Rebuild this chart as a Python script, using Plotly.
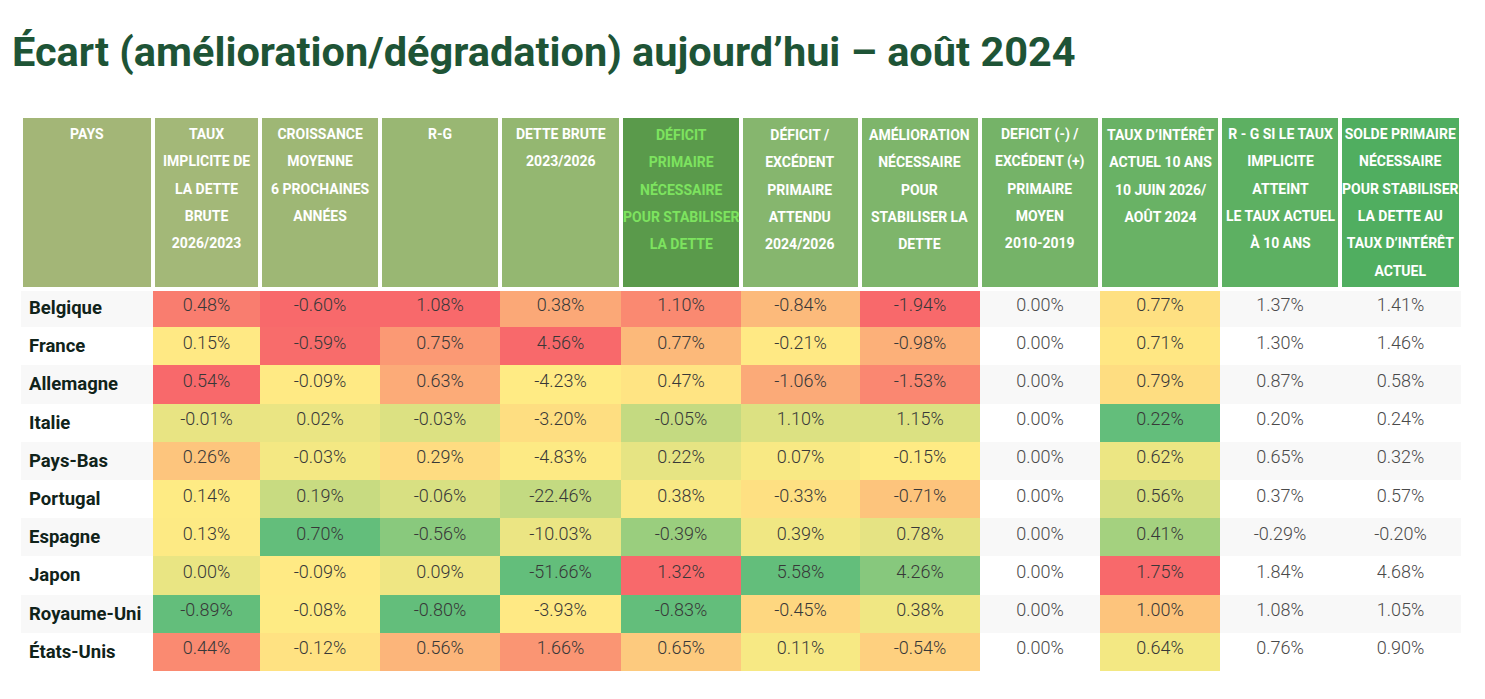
import plotly.graph_objects as go
from plotly.colors import sample_colorscale

# ---- data ----
pays = ["Belgique", "France", "Allemagne", "Italie", "Pays-Bas", "Portugal",
        "Espagne", "Japon", "Royaume-Uni", "États-Unis"]

taux_implicite = [0.48, 0.15, 0.54, -0.01, 0.26, 0.14, 0.13, 0.00, -0.89, 0.44]
croissance = [-0.60, -0.59, -0.09, 0.02, -0.03, 0.19, 0.70, -0.09, -0.08, -0.12]
r_g = [1.08, 0.75, 0.63, -0.03, 0.29, -0.06, -0.56, 0.09, -0.80, 0.56]
dette_brute = [0.38, 4.56, -4.23, -3.20, -4.83, -22.46, -10.03, -51.66, -3.93, 1.66]
deficit_necessaire = [1.10, 0.77, 0.47, -0.05, 0.22, 0.38, -0.39, 1.32, -0.83, 0.65]
deficit_attendu = [-0.84, -0.21, -1.06, 1.10, 0.07, -0.33, 0.39, 5.58, -0.45, 0.11]
amelioration = [-1.94, -0.98, -1.53, 1.15, -0.15, -0.71, 0.78, 4.26, 0.38, -0.54]
deficit_moyen = [0.00] * 10
taux_actuel = [0.77, 0.71, 0.79, 0.22, 0.62, 0.56, 0.41, 1.75, 1.00, 0.64]
r_g_actuel = [1.37, 1.30, 0.87, 0.20, 0.65, 0.37, -0.29, 1.84, 1.08, 0.76]
solde_actuel = [1.41, 1.46, 0.58, 0.24, 0.32, 0.57, -0.20, 4.68, 1.05, 0.90]

headers = [
    "PAYS",
    "TAUX<br>IMPLICITE DE<br>LA DETTE<br>BRUTE<br>2026/2023",
    "CROISSANCE<br>MOYENNE<br>6 PROCHAINES<br>ANNÉES",
    "R-G",
    "DETTE BRUTE<br>2023/2026",
    "DÉFICIT<br>PRIMAIRE<br>NÉCESSAIRE<br>POUR STABILISER<br>LA DETTE",
    "DÉFICIT /<br>EXCÉDENT<br>PRIMAIRE<br>ATTENDU<br>2024/2026",
    "AMÉLIORATION<br>NÉCESSAIRE<br>POUR<br>STABILISER LA<br>DETTE",
    "DEFICIT (-) /<br>EXCÉDENT (+)<br>PRIMAIRE<br>MOYEN<br>2010-2019",
    "TAUX D’INTÉRÊT<br>ACTUEL 10 ANS<br>10 JUIN 2026/<br>AOÛT 2024",
    "R - G SI LE TAUX<br>IMPLICITE<br>ATTEINT<br>LE TAUX ACTUEL<br>À 10 ANS",
    "SOLDE PRIMAIRE<br>NÉCESSAIRE<br>POUR STABILISER<br>LA DETTE AU<br>TAUX D’INTÉRÊT<br>ACTUEL",
]

columns = [taux_implicite, croissance, r_g, dette_brute, deficit_necessaire,
           deficit_attendu, amelioration, deficit_moyen, taux_actuel,
           r_g_actuel, solde_actuel]

# ---- styling ----
W, H = 1485, 699
header_colors = ["#A3B677", "#A3B878", "#9EB775", "#99B773", "#94B771", "#5A9A4B",
                 "#86B66E", "#7EB56B", "#75B368", "#69B265", "#5DB062", "#50AE60"]
header_font_colors = ["white"] * 12
header_font_colors[5] = "#7DE35F"

row_bg = ["#F8F8F8" if i % 2 == 0 else "#FFFFFF" for i in range(len(pays))]

RED, YELLOW, GREEN = "#F8696B", "#FFEB84", "#63BE7B"
scale_up = [[0, GREEN], [0.5, YELLOW], [1, RED]]      # higher = worse
scale_down = [[0, RED], [0.5, YELLOW], [1, GREEN]]    # higher = better


def median(vals):
    s = sorted(vals)
    n = len(s)
    return s[n // 2] if n % 2 else (s[n // 2 - 1] + s[n // 2]) / 2


def three_color(vals, ref, scale):
    lo, hi, mid = min(ref), max(ref), median(ref)
    pos = []
    for v in vals:
        if v <= mid:
            p = 0.5 * (v - lo) / (mid - lo) if mid > lo else 0.5
        else:
            p = 0.5 + 0.5 * (v - mid) / (hi - mid) if hi > mid else 0.5
        pos.append(min(max(p, 0), 1))
    return sample_colorscale(scale, pos)


shared_67 = deficit_attendu + amelioration
fills = [
    row_bg,
    three_color(taux_implicite, taux_implicite, scale_up),
    three_color(croissance, croissance, scale_down),
    three_color(r_g, r_g, scale_up),
    three_color(dette_brute, dette_brute, scale_up),
    three_color(deficit_necessaire, deficit_necessaire, scale_up),
    three_color(deficit_attendu, shared_67, scale_down),
    three_color(amelioration, shared_67, scale_down),
    row_bg,
    three_color(taux_actuel, taux_actuel, scale_up),
    row_bg,
    row_bg,
]

cell_values = [["<b>%s</b>" % p for p in pays]] + [["%.2f%%" % v for v in c] for c in columns]

widths = [132, 107, 120, 120, 121, 120, 119, 120, 120, 120, 120, 121]
x0 = 13
table_top = 108

fig = go.Figure()
fig.add_trace(
    go.Table(
        domain=dict(x=[x0 / W, (x0 + sum(widths)) / W], y=[0, 1 - table_top / H]),
        columnwidth=widths,
        header=dict(values=[""] * 12,
                    fill_color=header_colors,
                    line=dict(color="white", width=4),
                    height=173),
        cells=dict(values=cell_values,
                   fill_color=fills,
                   line=dict(color="white", width=0),
                   align=["left"] + ["center"] * 11,
                   height=38.2,
                   font=dict(family="Roboto, sans-serif",
                             size=[18.5] + [18] * 11,
                             weight=[900] + [300] * 11,
                             color=["#10231A"] + ["#383838"] * 7 + ["#4A4A4A"] + ["#383838"] + ["#4A4A4A"] * 2)),
    )
)

# header labels, centred line by line
left = x0
for h, w, fc in zip(headers, widths, header_font_colors):
    fig.add_annotation(
        x=(left + w / 2) / W, y=1 - 116 / H, xref="paper", yref="paper",
        xanchor="center", yanchor="top", align="center", showarrow=False,
        text='<span style="font-size:14px">%s</span>' % h,
        font=dict(family="Roboto, sans-serif", size=21, color=fc, weight="bold"),
    )
    left += w

fig.update_layout(
    width=W, height=H,
    margin=dict(l=0, r=0, t=0, b=0),
    paper_bgcolor="white",
    title=dict(text="Écart (amélioration/dégradation) aujourd’hui – août 2024",
               x=4 / W, xanchor="left", y=1 - 43 / H, yanchor="middle",
               font=dict(family="Roboto, sans-serif", size=41.5, color="#1E5436", weight="bold")),
)

fig.write_html("out.html")
